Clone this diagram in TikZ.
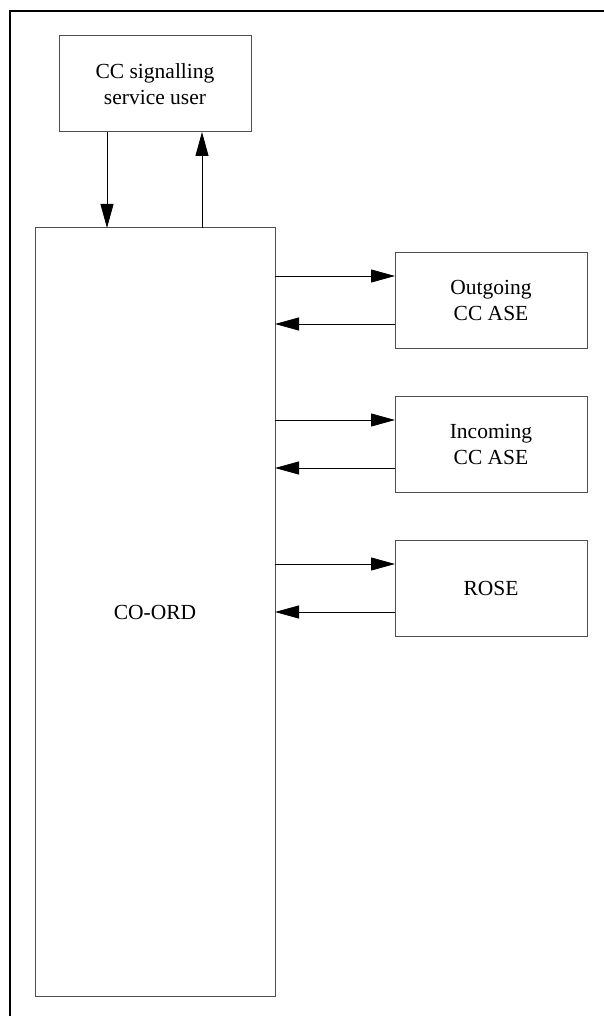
\documentclass[tikz,border=0pt]{standalone}
\usepackage{fontspec}
\setmainfont{Liberation Serif}
\usetikzlibrary{arrows.meta,positioning}
\definecolor{boxgray}{RGB}{80,80,80}

\begin{document}
\begin{tikzpicture}[x=1pt, y=1pt, font=\fontsize{21.5}{26}\selectfont,
      blk/.style={rectangle, draw=boxgray, line width=1pt, align=center,
                  inner sep=0pt, outer sep=0pt, minimum width=192pt, minimum height=96pt},
      arr/.style={-{Triangle[length=24pt, width=13pt]}, line width=0.8pt, black}]
    \useasboundingbox (0,0) rectangle (604,-1016);
    % frame
    \draw[line width=2.2pt] (10,-1016) -- (10,-11) -- (604,-11);

    \node[blk, minimum width=240pt, minimum height=768pt] (coord) at (155,-612) {CO-ORD};
    \node[blk, above=96pt of coord] (user) {CC signalling\\ service user};
    \node[blk, below right=24pt and 120pt of coord.north east] (out) {Outgoing\\ CC ASE};
    \node[blk, below=48pt of out] (inc) {Incoming\\ CC ASE};
    \node[blk, below=48pt of inc] (rose) {ROSE};

    \draw[arr] ([xshift=-48pt]user.south) -- ([xshift=-48pt]coord.north);
    \draw[arr] ([xshift=47pt]coord.north) -- ([xshift=47pt]user.south);

    \draw[arr] ([yshift=24pt]out.west -| coord.east) -- ([yshift=24pt]out.west);
    \draw[arr] ([yshift=-24pt]out.west) -- ([yshift=-24pt]out.west -| coord.east);
    \draw[arr] ([yshift=24pt]inc.west -| coord.east) -- ([yshift=24pt]inc.west);
    \draw[arr] ([yshift=-24pt]inc.west) -- ([yshift=-24pt]inc.west -| coord.east);
    \draw[arr] ([yshift=24pt]rose.west -| coord.east) -- ([yshift=24pt]rose.west);
    \draw[arr] ([yshift=-24pt]rose.west) -- ([yshift=-24pt]rose.west -| coord.east);
  \end{tikzpicture}
\end{document}
